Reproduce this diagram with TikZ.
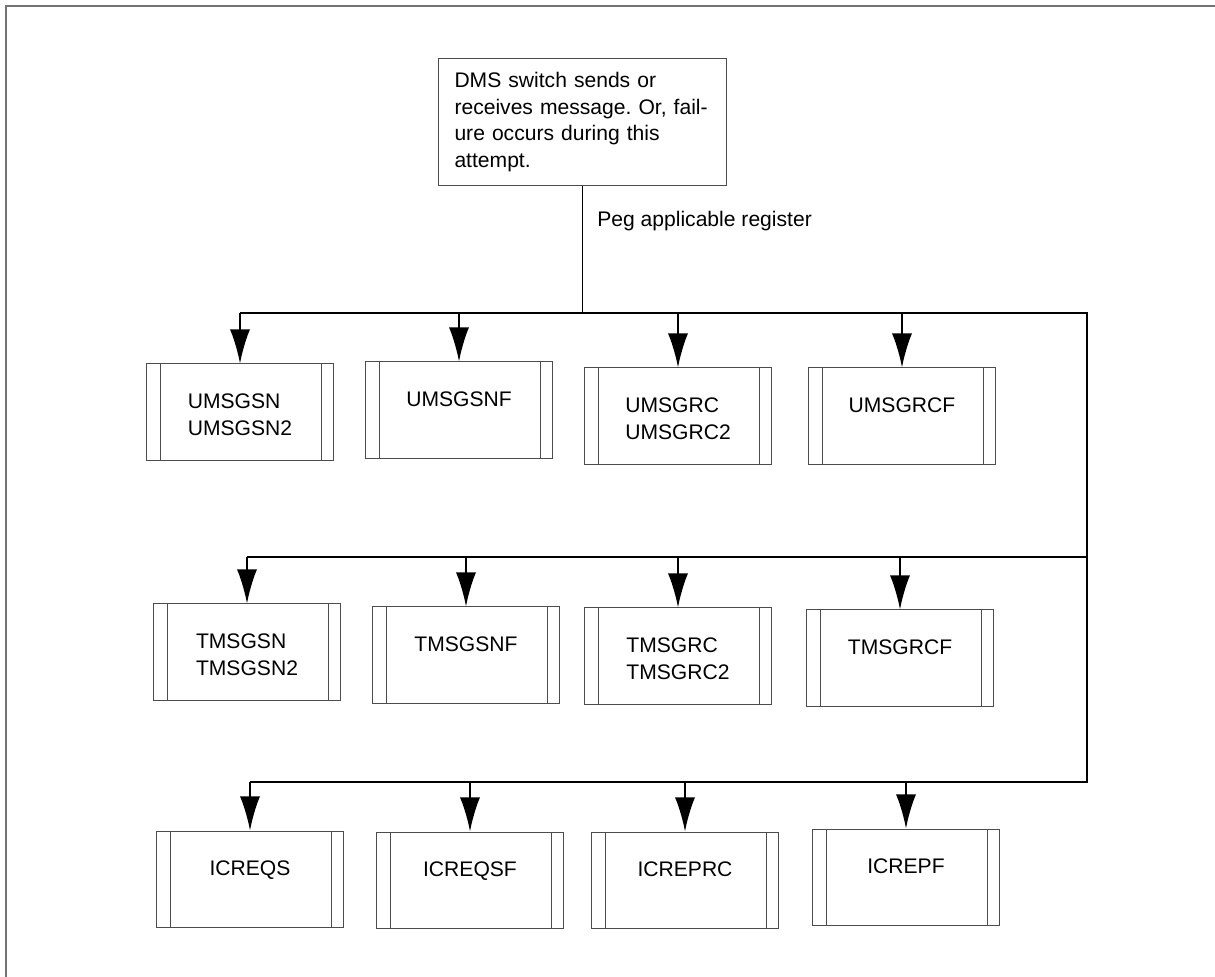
\documentclass[tikz,border=0pt]{standalone}
\usepackage{fontspec}
\setmainfont{Liberation Sans}
\usetikzlibrary{arrows.meta, positioning}
\frenchspacing

\begin{document}
\begin{tikzpicture}[x=0.025cm, y=-0.025cm,
    reg/.style={draw=black!70, line width=0.7pt, minimum width=4.65cm, minimum height=2.4cm, inner sep=0pt,
      path picture={
        \draw[black!70, line width=0.7pt] ([xshift=0.34cm]path picture bounding box.north west) -- ([xshift=0.34cm]path picture bounding box.south west);
        \draw[black!70, line width=0.7pt] ([xshift=-0.3cm]path picture bounding box.north east) -- ([xshift=-0.3cm]path picture bounding box.south east);
      }},
    regtext/.style={font=\fontsize{15}{18.9}\selectfont, align=left, inner sep=0pt},
    bus/.style={line width=1.4pt},
    flow/.style={line width=1.4pt, -{Latex[length=0.85cm, width=0.5cm]}},
  ]
    \useasboundingbox (0,0) rectangle (1215,977);
    % 外框
    \draw[black!55, line width=1.1pt] (1215,6) -- (6,6) -- (6,977);

    % 顶部方框
    \node[draw=black!70, line width=0.7pt, regtext, text width=6.4cm, inner xsep=0.4cm, inner ysep=0.35cm, anchor=north west] (msg) at (438,58)
      {DMS switch sends or\\receives message. Or, fail-\\ure occurs during this\\attempt.};
    \node[regtext, anchor=base west] (peg) at (597,227) {Peg applicable register};

    \coordinate (r1) at (1087,313);
    \coordinate (r2) at (1087,557);
    \coordinate (r3) at (1087,782);

    % 第一行
    \node[reg] (u1) at (240,412) {};
    \node[reg] (u2) at (459,410) {};
    \node[reg] (u3) at (678,416) {};
    \node[reg] (u4) at (902,416) {};
    \node[regtext, below=0.75cm of u1.north] (u1t) {UMSGSN\\UMSGSN2};
    \node[regtext, below=0.75cm of u2.north] (u2t) {UMSGSNF};
    \node[regtext, below=0.75cm of u3.north] (u3t) {UMSGRC\\UMSGRC2};
    \node[regtext, below=0.75cm of u4.north] (u4t) {UMSGRCF};

    % 第二行
    \node[reg] (t1) at (247,652) {};
    \node[reg] (t2) at (466,655) {};
    \node[reg] (t3) at (678,656) {};
    \node[reg] (t4) at (900,658) {};
    \node[regtext, below=0.75cm of t1.north] (t1t) {TMSGSN\\TMSGSN2};
    \node[regtext, below=0.75cm of t2.north] (t2t) {TMSGSNF};
    \node[regtext, below=0.75cm of t3.north] (t3t) {TMSGRC\\TMSGRC2};
    \node[regtext, below=0.75cm of t4.north] (t4t) {TMSGRCF};

    % 第三行
    \node[reg] (i1) at (250,879) {};
    \node[reg] (i2) at (470,880) {};
    \node[reg] (i3) at (685,880) {};
    \node[reg] (i4) at (906,877) {};
    \node[regtext, below=0.75cm of i1.north] (i1t) {ICREQS};
    \node[regtext, below=0.75cm of i2.north] (i2t) {ICREQSF};
    \node[regtext, below=0.75cm of i3.north] (i3t) {ICREPRC};
    \node[regtext, below=0.75cm of i4.north] (i4t) {ICREPF};

    % 连线
    \draw[line width=0.9pt] (msg) -- (msg.south |- r1);
    \draw[bus] (u1.north |- r1) -- (r1) -- (r3) -- (i1.north |- r3);
    \draw[bus] (t1.north |- r2) -- (r2);

    \draw[flow] (u1.north |- r1) -- (u1);
    \draw[flow] (u2.north |- r1) -- (u2);
    \draw[flow] (u3.north |- r1) -- (u3);
    \draw[flow] (u4.north |- r1) -- (u4);
    \draw[flow] (t1.north |- r2) -- (t1);
    \draw[flow] (t2.north |- r2) -- (t2);
    \draw[flow] (t3.north |- r2) -- (t3);
    \draw[flow] (t4.north |- r2) -- (t4);
    \draw[flow] (i1.north |- r3) -- (i1);
    \draw[flow] (i2.north |- r3) -- (i2);
    \draw[flow] (i3.north |- r3) -- (i3);
    \draw[flow] (i4.north |- r3) -- (i4);
\end{tikzpicture}
\end{document}
